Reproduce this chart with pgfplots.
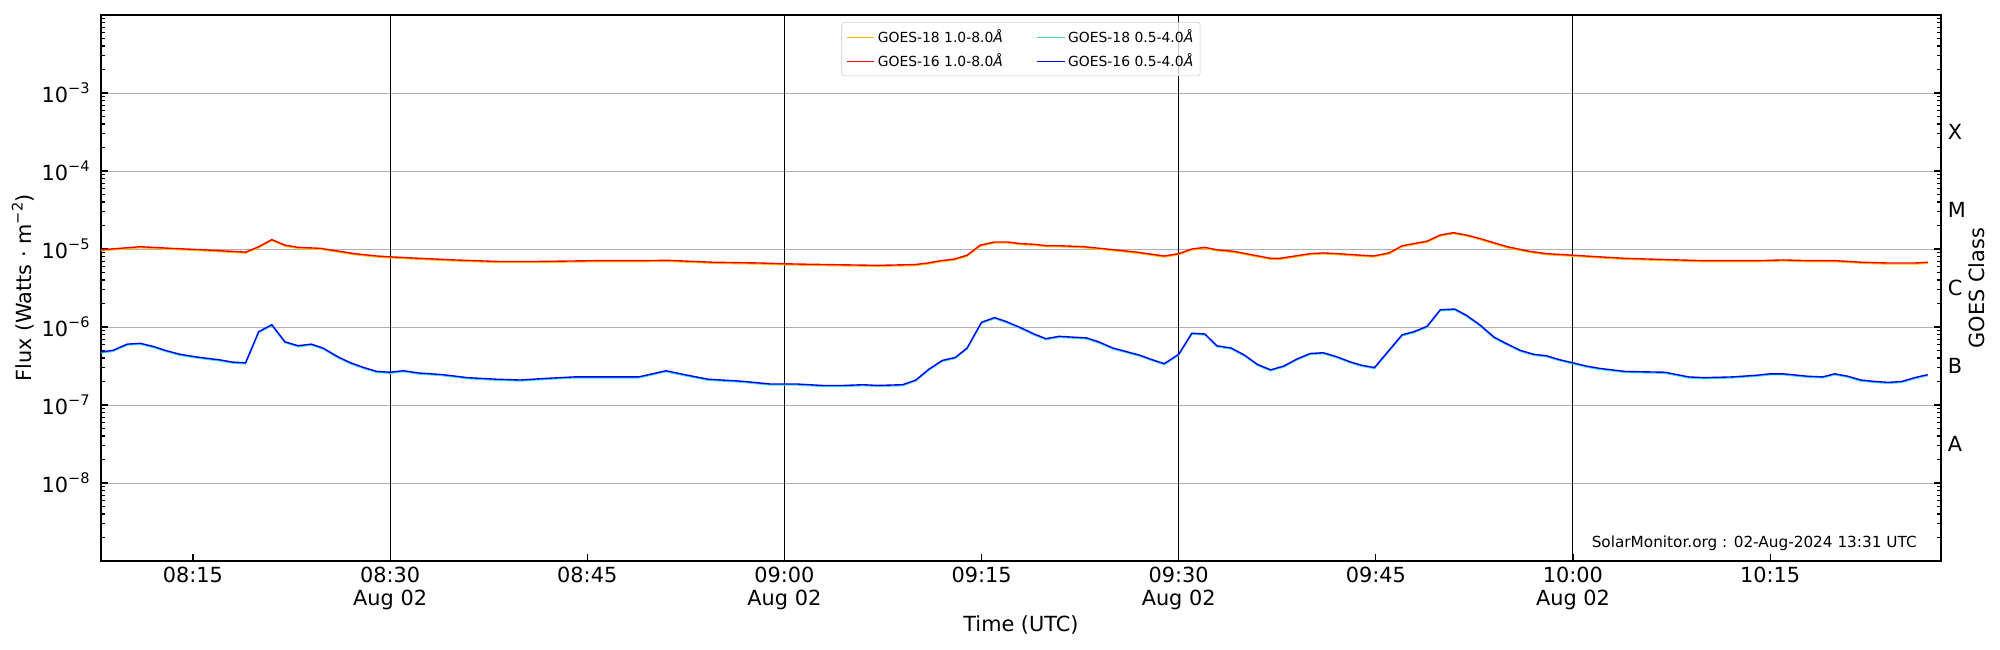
\documentclass[border=0pt]{standalone}
\usepackage{fontspec}
\setmainfont{DejaVu Sans}
\usepackage{pgfplots}
\pgfplotsset{compat=1.18}
\usepackage{pgfplotstable}
\definecolor{g18long}{RGB}{255,190,0}
\definecolor{g18short}{RGB}{64,224,208}
\definecolor{g16short}{RGB}{0,0,255}
\definecolor{gridgray}{RGB}{176,176,176}
\definecolor{legedge}{RGB}{204,204,204}
\newcommand{\pw}[1]{10\raisebox{0.42em}{\fontsize{10.5}{12}\selectfont −#1}}

\pgfplotstableread{
t f
8 9.77e-6
11 1.07e-5
13.3 1.02e-5
15.8 9.77e-6
19 9.12e-6
20 1.07e-5
21 1.32e-5
22 1.12e-5
23 1.05e-5
24.7 1.02e-5
27.3 8.71e-6
29 8.13e-6
30 7.94e-6
32.3 7.59e-6
34.9 7.24e-6
38.2 6.92e-6
41.2 6.92e-6
45.5 7.08e-6
49.1 7.08e-6
51.1 7.16e-6
54.6 6.76e-6
58.2 6.61e-6
60 6.46e-6
63.3 6.31e-6
67.1 6.17e-6
69.9 6.31e-6
70.9 6.61e-6
71.9 7.08e-6
72.9 7.41e-6
73.9 8.32e-6
74.9 1.12e-5
76 1.23e-5
77 1.23e-5
78 1.17e-5
79 1.15e-5
80 1.10e-5
81 1.10e-5
82.8 1.07e-5
84.5 1.00e-5
86.8 9.12e-6
88.9 8.13e-6
90 8.71e-6
91 1.00e-5
92 1.05e-5
92.9 9.77e-6
94.2 9.33e-6
97 7.59e-6
97.7 7.59e-6
100 8.71e-6
101 8.91e-6
102.1 8.71e-6
104.8 8.13e-6
106 8.91e-6
107 1.10e-5
108.9 1.26e-5
109.9 1.51e-5
110.9 1.62e-5
111.9 1.51e-5
113 1.35e-5
114 1.20e-5
115 1.07e-5
116.7 9.33e-6
118 8.71e-6
120 8.32e-6
122 7.94e-6
124 7.59e-6
126 7.41e-6
128 7.24e-6
130 7.08e-6
132 7.08e-6
134 7.08e-6
136 7.24e-6
138 7.08e-6
140 7.08e-6
142 6.76e-6
144 6.61e-6
146 6.61e-6
147 6.76e-6
}\longtab

\pgfplotstableread{
t f
8 4.79e-7
8.9 5.01e-7
10 6.03e-7
11 6.17e-7
12 5.62e-7
12.9 5.01e-7
14 4.47e-7
15.1 4.17e-7
16 3.98e-7
17 3.80e-7
18 3.55e-7
19 3.47e-7
20 8.71e-7
21 1.07e-6
22 6.46e-7
23 5.75e-7
24 6.03e-7
24.9 5.37e-7
26 4.17e-7
27 3.47e-7
28 3.02e-7
29 2.69e-7
30 2.63e-7
31 2.75e-7
32.2 2.57e-7
34 2.45e-7
35.9 2.24e-7
38.1 2.14e-7
39.9 2.09e-7
41.8 2.19e-7
44 2.29e-7
45.8 2.29e-7
48.9 2.29e-7
51 2.75e-7
52.4 2.45e-7
54.2 2.14e-7
56.3 2.04e-7
57 2.00e-7
58.9 1.86e-7
60.9 1.86e-7
62.9 1.78e-7
64.5 1.78e-7
66 1.82e-7
67.1 1.78e-7
69 1.82e-7
70 2.09e-7
71 2.88e-7
72 3.72e-7
73 4.07e-7
73.9 5.37e-7
75 1.15e-6
76 1.32e-6
76.9 1.17e-6
78 9.77e-7
79 8.13e-7
79.9 7.08e-7
80.9 7.59e-7
83 7.24e-7
83.9 6.46e-7
85 5.37e-7
87 4.37e-7
88 3.80e-7
88.9 3.39e-7
90 4.47e-7
91 8.32e-7
92 8.13e-7
92.9 5.75e-7
94 5.37e-7
95 4.37e-7
96 3.31e-7
97 2.82e-7
98 3.16e-7
99 3.89e-7
100 4.57e-7
101 4.68e-7
102 4.17e-7
103.1 3.55e-7
103.9 3.24e-7
104.9 3.02e-7
105.9 4.79e-7
107 7.94e-7
107.9 8.71e-7
108.9 1.02e-6
109.9 1.66e-6
111 1.70e-6
111.9 1.41e-6
112.9 1.07e-6
114 7.41e-7
114.9 6.17e-7
116 5.01e-7
117 4.47e-7
118 4.27e-7
119 3.80e-7
120 3.47e-7
121 3.16e-7
122 2.95e-7
124 2.69e-7
127 2.63e-7
128.8 2.29e-7
130 2.24e-7
132.1 2.29e-7
133.9 2.40e-7
135 2.51e-7
136 2.51e-7
137.8 2.34e-7
139 2.29e-7
139.9 2.51e-7
140.9 2.34e-7
141.9 2.09e-7
143 2.00e-7
144 1.95e-7
145 2.00e-7
146 2.24e-7
147 2.45e-7
}\shorttab

\begin{document}
\begin{tikzpicture}
\useasboundingbox (-72.7pt,-64.1pt) rectangle (1367.3pt,403.9pt);
\begin{axis}[
  at={(0pt,0pt)}, anchor=south west,
  scale only axis, width=1324.8pt, height=393.1pt,
  clip=false,
  xmin=8, xmax=148,
  ymode=log, ymin=1e-9, ymax=1e-2,
  xtick={15,45,75,105,135},
  xticklabels={08:15,08:45,09:15,09:45,10:15},
  extra x ticks={30,60,90,120},
  extra x tick labels={08:30\\Aug 02,09:00\\Aug 02,09:30\\Aug 02,10:00\\Aug 02},
  extra x tick style={grid=major, major grid style={black, line width=0.7pt}},
  xtick pos=left,
  ytick={1e-8,1e-7,1e-6,1e-5,1e-4,1e-3},
  yticklabels={\pw{8},\pw{7},\pw{6},\pw{5},\pw{4},\pw{3}},
  minor ytick={2e-9,3e-9,4e-9,5e-9,6e-9,7e-9,8e-9,9e-9,
               2e-8,3e-8,4e-8,5e-8,6e-8,7e-8,8e-8,9e-8,
               2e-7,3e-7,4e-7,5e-7,6e-7,7e-7,8e-7,9e-7,
               2e-6,3e-6,4e-6,5e-6,6e-6,7e-6,8e-6,9e-6,
               2e-5,3e-5,4e-5,5e-5,6e-5,7e-5,8e-5,9e-5,
               2e-4,3e-4,4e-4,5e-4,6e-4,7e-4,8e-4,9e-4,
               2e-3,3e-3,4e-3,5e-3,6e-3,7e-3,8e-3,9e-3},
  ytick pos=both,
  ymajorgrids=true,
  major grid style={gridgray, line width=0.6pt},
  major tick length=5pt, minor tick length=3pt,
  every tick/.style={black, line width=0.8pt},
  axis line style={line width=0.9pt},
  tick label style={font=\fontsize{15}{17}\selectfont},
  xticklabel style={align=center, inner sep=0pt, yshift=-4pt},
  yticklabel style={inner sep=0pt, xshift=-8pt},
  label style={font=\fontsize{15}{18}\selectfont},
  xlabel={Time (UTC)},
  xlabel style={at={(axis description cs:0.5,-0.1173)}, anchor=center},
  ylabel={Flux (Watts · m\raisebox{0.42em}{\fontsize{10.5}{12}\selectfont −2})},
  ylabel style={at={(axis description cs:-0.0424,0.5)}, anchor=center},
  legend style={at={(0.5,0.987)}, anchor=north, legend columns=2,
    font=\fontsize{10}{12}\selectfont, draw=legedge, rounded corners=2pt,
    fill=white, fill opacity=0.8, text opacity=1, inner sep=3pt, row sep=3pt,
    /tikz/every even column/.append style={column sep=22pt}},
  legend cell align=left,
  legend image code/.code={\draw[#1] (0pt,0pt) -- (20pt,0pt);},
]
\addplot[g18long, line width=1pt, yshift=-0.7pt] table[x=t,y=f] {\longtab};
\addlegendentry{GOES-18 1.0-8.0\textit{Å}}
\addplot[g18short, line width=1pt, yshift=-0.7pt] table[x=t,y=f] {\shorttab};
\addlegendentry{GOES-18 0.5-4.0\textit{Å}}
\addplot[red, line width=1pt] table[x=t,y=f] {\longtab};
\addlegendentry{GOES-16 1.0-8.0\textit{Å}}
\addplot[g16short, line width=1pt] table[x=t,y=f] {\shorttab};
\addlegendentry{GOES-16 0.5-4.0\textit{Å}}

\begin{scope}[every node/.style={font=\fontsize{15}{18}\selectfont, anchor=west, xshift=1.5pt}]
\node at (axis cs:148,3.162e-4) {X};
\node at (axis cs:148,3.162e-5) {M};
\node at (axis cs:148,3.162e-6) {C};
\node at (axis cs:148,3.162e-7) {B};
\node at (axis cs:148,3.162e-8) {A};
\end{scope}
\node[rotate=90, anchor=center, font=\fontsize{15}{18}\selectfont] at (rel axis cs:1.0196,0.5) {GOES Class};
\node[anchor=east, font=\fontsize{11}{13}\selectfont, inner sep=0pt] at ([xshift=-17.3pt,yshift=13pt]rel axis cs:1,0) {SolarMonitor.org : 02-Aug-2024 13:31 UTC};
\end{axis}
\end{tikzpicture}
\end{document}
